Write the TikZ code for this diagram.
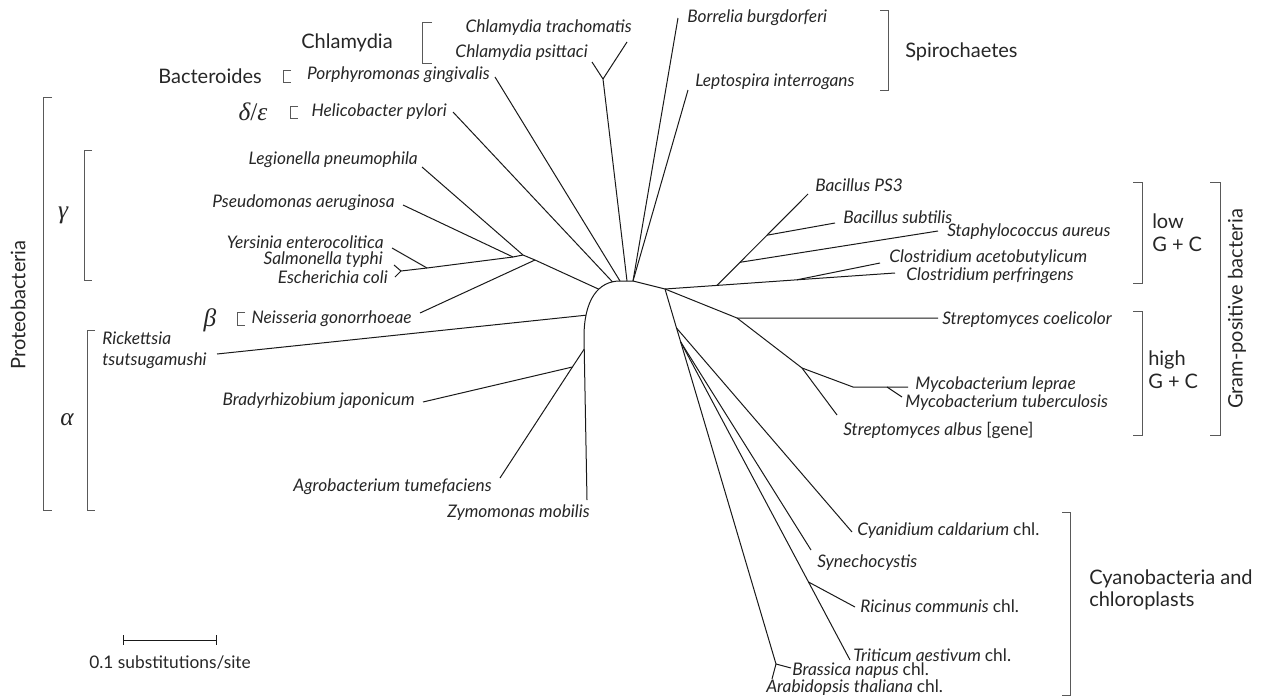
\documentclass[tikz,border=0pt]{standalone}
\usepackage{fontspec}
\setmainfont{Lato}
\newfontfamily\grkfont{Liberation Serif}
\tikzset{
  branch/.style={draw=black!90, line width=0.75pt, line join=round},
  brk/.style={draw=black!65, line width=0.7pt},
  sp/.style={font=\fontsize{13}{15.5}\selectfont\itshape, text=black!85, inner sep=0pt},
  grp/.style={font=\fontsize{15}{17}\selectfont, text=black!85, inner sep=0pt, align=left},
  gk/.style={font=\fontsize{19}{21}\selectfont\grkfont\itshape, text=black!85, inner sep=0pt}
}
\begin{document}
\begin{tikzpicture}[x=0.75pt, y=-0.75pt]
      \useasboundingbox (0,0) rectangle (1268,700);
      % tronc
      \coordinate (G) at (665,289);
      \coordinate (T2) at (633,281);
      \coordinate (T1) at (627,281);
      \coordinate (T0) at (620,281);
      \coordinate (aBot) at (584,337);
      \coordinate (eZym) at (587,500);
      \draw[branch] (G) -- (T2) -- (T0)
            .. controls (598,281) and (584,300) .. (aBot)
            coordinate[pos=0.12] (aHel) coordinate[pos=0.38] (aGam)
            coordinate[pos=0.78] (aRic)
            -- (eZym) coordinate[pos=0.074] (aAgr);
      % noeuds, cote gauche
      \coordinate (nChl) at (603,79);
      \coordinate (eCtr) at (627,42);
      \coordinate (eCps) at (592,62);
      \coordinate (eBor) at (678,18);
      \coordinate (eLep) at (688,90);
      \coordinate (ePor) at (495,77);
      \coordinate (eHel) at (453,112);
      \coordinate (nNei) at (535,260);
      \coordinate (nLeg) at (523,255);
      \coordinate (nPse) at (513,257);
      \coordinate (nEnt) at (427,268);
      \coordinate (nEco) at (401,271);
      \coordinate (eLeg) at (422,167);
      \coordinate (ePse) at (403,205);
      \coordinate (eYer) at (392,248);
      \coordinate (eSty) at (394,265);
      \coordinate (eEco) at (395,277);
      \coordinate (eNei) at (420,313);
      \coordinate (eRic) at (217,354);
      \coordinate (nBra) at (572.4,367);
      \coordinate (eBra) at (423,402);
      \coordinate (eAgr) at (500,478);
      % branches gauches
      \draw[branch] (T1) -- (nChl) -- (eCtr);
      \draw[branch] (nChl) -- (eCps);
      \draw[branch] (T2) -- (eBor);
      \draw[branch] (T2) -- (eLep);
      \draw[branch] (T0) -- (ePor);
      \draw[branch] (aHel) -- (eHel);
      \draw[branch] (aGam) -- (nNei) -- (nLeg) -- (nPse) -- (nEnt) -- (nEco);
      \draw[branch] (nLeg) -- (eLeg);
      \draw[branch] (nPse) -- (ePse);
      \draw[branch] (nNei) -- (eNei);
      \draw[branch] (nEnt) -- (eYer);
      \draw[branch] (nEco) -- (eSty);
      \draw[branch] (nEco) -- (eEco);
      \draw[branch] (aRic) -- (eRic);
      \draw[branch] (aAgr) -- (nBra) -- (eAgr);
      \draw[branch] (nBra) -- (eBra);
      % noeuds, cote droit
      \coordinate (eCpe) at (895,273);
      \coordinate (nBac) at (717,285.4);
      \coordinate (nCac) at (797,279.8);
      \coordinate (eCac) at (880,263);
      \coordinate (ePS3) at (808,194);
      \coordinate (nSta) at (740,262.3);
      \coordinate (nBsu) at (767,235.2);
      \coordinate (eSta) at (938,231);
      \coordinate (eBsu) at (835,223);
      \coordinate (H) at (737,318);
      \coordinate (eSco) at (938,318);
      \coordinate (nMyc) at (802,368);
      \coordinate (eSal) at (837,415);
      \coordinate (nMlt) at (853,387);
      \coordinate (nMtb) at (887,387);
      \coordinate (eMle) at (908,387);
      \coordinate (eMtb) at (902,397);
      \coordinate (C1) at (676.5,328);
      \coordinate (C2) at (680.7,342);
      \coordinate (nBrs) at (776,664);
      \coordinate (eCya) at (852,532);
      \coordinate (eSyn) at (811,550);
      \coordinate (nRic) at (808.5,582);
      \coordinate (eTri) at (850,660);
      \coordinate (eRcc) at (855,607);
      \coordinate (eBrn) at (791,668);
      \coordinate (eAra) at (772,679);
      % branches droites
      \draw[branch] (G) -- (nBac) -- (nCac) -- (eCpe);
      \draw[branch] (nCac) -- (eCac);
      \draw[branch] (nBac) -- (nSta) -- (nBsu) -- (ePS3);
      \draw[branch] (nSta) -- (eSta);
      \draw[branch] (nBsu) -- (eBsu);
      \draw[branch] (G) -- (H) -- (eSco);
      \draw[branch] (H) -- (nMyc) -- (eSal);
      \draw[branch] (nMyc) -- (nMlt) -- (nMtb) -- (eMle);
      \draw[branch] (nMtb) -- (eMtb);
      \draw[branch] (G) -- (C1) -- (C2) -- (nBrs) -- (eBrn);
      \draw[branch] (nBrs) -- (eAra);
      \draw[branch] (C1) -- (eCya);
      \draw[branch] (C2) -- (eSyn);
      \draw[branch] (C2) -- (nRic) -- (eTri);
      \draw[branch] (nRic) -- (eRcc);
      % especes, gauche
      \node[sp, anchor=east] (lCtr) at (632,28)  {Chlamydia trachomatis};
      \node[sp, anchor=east] (lCps) at (588,53)  {Chlamydia psittaci};
      \node[sp, anchor=east] (lPor) at (490,75)  {Porphyromonas gingivalis};
      \node[sp, anchor=east] (lHel) at (447,112) {Helicobacter pylori};
      \node[sp, anchor=east] (lLeg) at (418,160) {Legionella pneumophila};
      \node[sp, anchor=east] (lPse) at (395,203) {Pseudomonas aeruginosa};
      \node[sp, anchor=east] (lYer) at (384,242) {Yersinia enterocolitica};
      \node[sp, anchor=east] (lSty) at (383,260) {Salmonella typhi};
      \node[sp, anchor=east] (lEco) at (388,277) {Escherichia coli};
      \node[sp, anchor=east] (lNei) at (412,319) {Neisseria gonorrhoeae};
      \node[sp, anchor=west, align=left] (lRic) at (102,350) {Rickettsia\\tsutsugamushi};
      \node[sp, anchor=east] (lBra) at (415,401) {Bradyrhizobium japonicum};
      \node[sp, anchor=east] (lAgr) at (492,487) {Agrobacterium tumefaciens};
      \node[sp, anchor=east] (lZym) at (590,513) {Zymomonas mobilis};
      % especes, droite
      \node[sp, anchor=west] (lBor) at (687,18)  {Borrelia burgdorferi};
      \node[sp, anchor=west] (lLep) at (695,82)  {Leptospira interrogans};
      \node[sp, anchor=west] (lPS3) at (815,185) {Bacillus PS3};
      \node[sp, anchor=west] (lBsu) at (843,217) {Bacillus subtilis};
      \node[sp, anchor=west] (lSta) at (947,232) {Staphylococcus aureus};
      \node[sp, anchor=west] (lCac) at (889,258) {Clostridium acetobutylicum};
      \node[sp, anchor=west] (lCpe) at (906,276) {Clostridium perfringens};
      \node[sp, anchor=west] (lSco) at (942,320) {Streptomyces coelicolor};
      \node[sp, anchor=west] (lMle) at (915,385) {Mycobacterium leprae};
      \node[sp, anchor=west] (lMtb) at (905,403) {Mycobacterium tuberculosis};
      \node[sp, anchor=west] (lSal) at (843,430) {Streptomyces albus \upshape[gene]};
      \node[sp, anchor=west] (lCya) at (857,531) {Cyanidium caldarium \upshape chl.};
      \node[sp, anchor=west] (lSyn) at (817,563) {Synechocystis};
      \node[sp, anchor=west] (lRcc) at (860,606) {Ricinus communis \upshape chl.};
      \node[sp, anchor=west] (lTri) at (853,655) {Triticum aestivum \upshape chl.};
      \node[sp, anchor=west] (lBrn) at (792,671) {Brassica napus \upshape chl.};
      \node[sp, anchor=west] (lAra) at (766,688) {Arabidopsis thaliana \upshape chl.};
      % groupes
      \node[grp] (gChl) at (347,43)  {Chlamydia};
      \node[grp] (gBct) at (210,76)  {Bacteroides};
      \node[grp, anchor=west] (gSpi) at (905,52) {Spirochaetes};
      \node[gk] (gDe) at (253,112) {δ\upshape/\itshape ε};
      \node[gk] (gGam) at (63,215)  {γ};
      \node[gk] (gBet) at (210,320) {β};
      \node[gk] (gAlp) at (67,420)  {α};
      \node[grp, rotate=90] (gPro) at (18,305) {Proteobacteria};
      \node[grp, anchor=west] (gLow) at (1152,233) {low\\G + C};
      \node[grp, anchor=west] (gHig) at (1148,370) {high\\G + C};
      \node[grp, rotate=90] (gGra) at (1237,309) {Gram-positive bacteria};
      \node[grp, anchor=west] (gCya) at (1089,590) {Cyanobacteria and\\chloroplasts};
      % crochets
      \draw[brk] (432,22) -| (422,63) -- (432,63);
      \draw[brk] (291,70) -| (283,82) -- (291,82);
      \draw[brk] (298,106) -| (290,118) -- (298,118);
      \draw[brk] (245,312) -| (237,325) -- (245,325);
      \draw[brk] (52,97) -| (43,510) -- (52,510);
      \draw[brk] (92,150) -| (84,280) -- (92,280);
      \draw[brk] (95,330) -| (87,510) -- (95,510);
      \draw[brk] (880,10) -| (888,90) -- (880,90);
      \draw[brk] (1133,182) -| (1142,283) -- (1133,283);
      \draw[brk] (1133,311) -| (1142,435) -- (1133,435);
      \draw[brk] (1210,182) -| (1220,435) -- (1210,435);
      \draw[brk] (1062,512) -| (1070,695) -- (1062,695);
      % echelle
      \coordinate (sbL) at (123,640);
      \coordinate (sbR) at (217,640);
      \draw[branch, |-|] (sbL) -- (sbR);
      \node[grp, font=\fontsize{13}{15.5}\selectfont] (lScale) at (170,662) {0.1 substitutions/site};
\end{tikzpicture}
\end{document}
